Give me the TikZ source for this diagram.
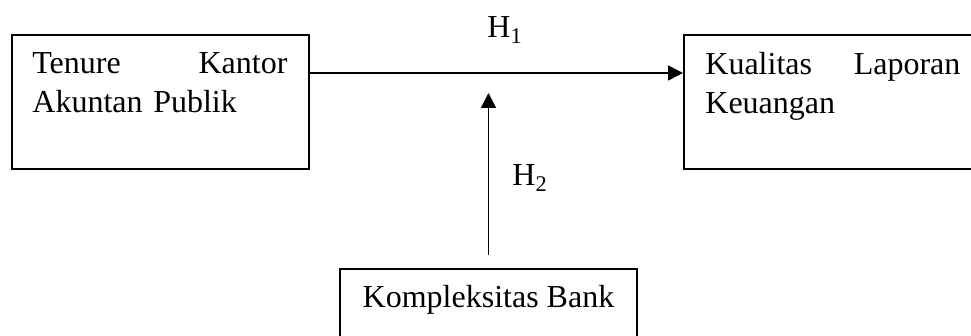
\documentclass[tikz,border=0pt]{standalone}
\usepackage{fontspec}
\setmainfont{Liberation Serif}
\usetikzlibrary{arrows.meta, positioning, calc}

\begin{document}
\begin{tikzpicture}[
        x=0.5pt, y=-0.5pt,
        font=\fontsize{16}{19.5}\selectfont,
        >={Triangle[length=7.5pt, width=7.5pt]},
        % variable boxes and their texts
        box/.style   ={draw, line width=1pt, minimum width=148.5pt, minimum height=67pt, inner sep=0pt, anchor=north west},
        boxtxt/.style={inner sep=0pt, text width=127.5pt, align=left, anchor=north west},
        link/.style  ={line width=0.75pt},
        hlabel/.style={inner sep=0pt, anchor=base west}
    ]
    \useasboundingbox (0,0) rectangle (971,336);

    %% ===== variables =====
    \node[box] (tkap) at (11,34) {};
    \node[box] (klk) at (683,34) {};
    \node[box] (kb) at (339,268) {};

    \node[boxtxt] (tkaptxt) at ($(tkap.north west)+(21,18)$) {Tenure \hfill Kantor\\Akuntan Publik};
    \node[boxtxt] (klktxt) at ($(klk.north west)+(22,18)$) {Kualitas \hfill Laporan\\Keuangan};
    \node[inner sep=0pt, anchor=base] (kbtxt) at ($(kb.north)+(0,40)$) {Kompleksitas Bank};

    %% ===== hypotheses =====
    \draw[link, ->] ($(tkap.north east)+(0,39)$) -- ($(klk.north west)+(0,39)$);
    \coordinate (mod) at ($(kb.north)+(0,-175)$);
    \draw[link, ->] ($(kb.north)+(0,-13)$) -- (mod);

    \node[hlabel] (h1lbl) at (487,38) {H\textsubscript{1}};
    \node[hlabel] (h2lbl) at (512,186) {H\textsubscript{2}};

\end{tikzpicture}
\end{document}
